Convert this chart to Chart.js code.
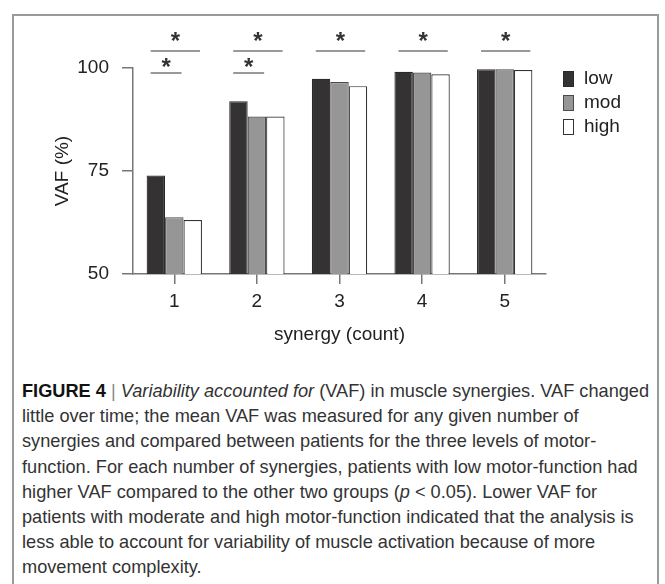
<!DOCTYPE html>
<html>
<head>
<meta charset="utf-8">
<script src="https://cdn.jsdelivr.net/npm/chart.js@4"></script>
<style>
  html, body { margin: 0; padding: 0; background: #fff; }
  body { width: 665px; height: 584px; position: relative; overflow: hidden; }
  #frame {
    position: absolute; left: 12px; top: 14px; width: 647px; height: 600px;
    border: 2px solid #9a9a9a; box-sizing: border-box;
  }
  #chart { position: absolute; left: 0; top: 0; }
  #caption {
    position: absolute; left: 22px; top: 379px;
    font-family: "Liberation Sans", Arial, sans-serif;
    font-size: 18.2px; line-height: 25.2px; color: #333;
    white-space: nowrap;
  }
  #caption b { color: #111; }
  #caption .bar { color: #888; font-weight: 300; }
</style>
</head>
<body>
<div id="frame"></div>
<canvas id="chart" width="665" height="360"></canvas>
<div id="caption">
  <div><b>FIGURE 4</b> <span class="bar">|</span> <i>Variability accounted for</i> (VAF) in muscle synergies. VAF changed</div>
  <div>little over time; the mean VAF was measured for any given number of</div>
  <div>synergies and compared between patients for the three levels of motor-</div>
  <div>function. For each number of synergies, patients with low motor-function had</div>
  <div>higher VAF compared to the other two groups (<i>p</i> &lt; 0.05). Lower VAF for</div>
  <div>patients with moderate and high motor-function indicated that the analysis is</div>
  <div>less able to account for variability of muscle activation because of more</div>
  <div>movement complexity.</div>
</div>
<script>
// Данные (VAF, %)
const synergies = ['1', '2', '3', '4', '5'];
const vafLow  = [73.9, 91.9, 97.4, 99.1, 99.7];
const vafMod  = [63.8, 88.2, 96.6, 98.9, 99.7];
const vafHigh = [63.1, 88.2, 95.6, 98.5, 99.5];
const yTicks = [50, 75, 100];

// Значимость: low против mod+high (верхняя линия) и low против mod (нижняя)
const sigLowVsAll = [true, true, true, true, true];
const sigLowVsMod = [true, true, false, false, false];

const FONT = '"Liberation Sans", Arial, sans-serif';
const AXIS = '#777';

// Звёздочки и линии значимости
const sigPlugin = {
    id: 'sig',
    afterDraw(chart) {
        const ctx = chart.ctx;
        const top = chart.chartArea.top;
        const m0 = chart.getDatasetMeta(0).data;
        const m1 = chart.getDatasetMeta(1).data;
        const m2 = chart.getDatasetMeta(2).data;

        function bracket(i, a, b, lineY, starY) {
            const x1 = a[i].x - a[i].width / 2 + 4;
            const x2 = b[i].x + b[i].width / 2 - 2;
            ctx.save();
            ctx.strokeStyle = AXIS;
            ctx.lineWidth = 1.5;
            ctx.beginPath();
            ctx.moveTo(x1, lineY);
            ctx.lineTo(x2, lineY);
            ctx.stroke();
            ctx.fillStyle = '#333';
            ctx.font = 'bold 24px ' + FONT;
            ctx.textAlign = 'center';
            ctx.textBaseline = 'alphabetic';
            const mt = ctx.measureText('*');
            const base = starY + (mt.actualBoundingBoxAscent - mt.actualBoundingBoxDescent) / 2;
            ctx.fillText('*', (x1 + x2) / 2, base);
            ctx.restore();
        }

        synergies.forEach((s, i) => {
            if (sigLowVsAll[i]) bracket(i, m0, m2, top - 17, top - 32);
            if (sigLowVsMod[i]) bracket(i, m0, m1, top + 5, top - 5.5);
        });
    }
};

// Легенда справа
const legendPlugin = {
    id: 'sideLegend',
    afterDraw(chart) {
        const ctx = chart.ctx;
        const x = chart.chartArea.right + 17;
        let y = chart.chartArea.top + 3;
        ctx.save();
        chart.data.datasets.forEach(ds => {
            ctx.fillStyle = ds.backgroundColor;
            ctx.fillRect(x, y, 11, 16);
            ctx.strokeStyle = ds.borderColor;
            ctx.lineWidth = 1;
            ctx.strokeRect(x + 0.5, y + 0.5, 10, 15);
            ctx.fillStyle = '#222';
            ctx.font = '19px ' + FONT;
            ctx.textAlign = 'left';
            ctx.textBaseline = 'middle';
            ctx.fillText(ds.label, x + 21, y + 8);
            y += 24;
        });
        ctx.restore();
    }
};

new Chart(document.getElementById('chart'), {
    type: 'bar',
    data: {
        labels: synergies,
        datasets: [
            { label: 'low',  data: vafLow,  backgroundColor: '#343233', borderColor: '#2a2a2a', borderWidth: 1.2, borderSkipped: false },
            { label: 'mod',  data: vafMod,  backgroundColor: '#969696', borderColor: '#4a4a4a', borderWidth: 1.2, borderSkipped: false },
            { label: 'high', data: vafHigh, backgroundColor: '#ffffff', borderColor: '#333333', borderWidth: 1.2, borderSkipped: false }
        ]
    },
    options: {
        responsive: false,
        animation: false,
        categoryPercentage: 0.67,
        barPercentage: 1.0,
        layout: { padding: { left: 51, top: 68, right: 119, bottom: 14 } },
        plugins: {
            legend: { display: false },
            tooltip: { enabled: false }
        },
        scales: {
            x: {
                offset: true,
                grid: { offset: false, drawOnChartArea: false, drawTicks: true, tickLength: 10, color: AXIS, lineWidth: 1.5 },
                border: { color: AXIS, width: 1.5 },
                ticks: { color: '#222', font: { family: FONT, size: 19 }, padding: 6 },
                title: { display: true, text: 'synergy (count)', color: '#222', font: { family: FONT, size: 19 }, padding: 0 },
                afterFit(scale) { scale.height = 72; }
            },
            y: {
                min: 50,
                max: 100,
                afterBuildTicks(scale) { scale.ticks = yTicks.map(v => ({ value: v })); },
                grid: { drawOnChartArea: false, drawTicks: true, tickLength: 11, color: AXIS, lineWidth: 1.5 },
                border: { color: AXIS, width: 1.5 },
                ticks: { color: '#222', font: { family: FONT, size: 19 }, padding: 13 },
                title: { display: true, text: 'VAF (%)', color: '#222', font: { family: FONT, size: 19 }, padding: 0 },
                afterFit(scale) { scale.width = 82; }
            }
        }
    },
    plugins: [sigPlugin, legendPlugin]
});
</script>
</body>
</html>
